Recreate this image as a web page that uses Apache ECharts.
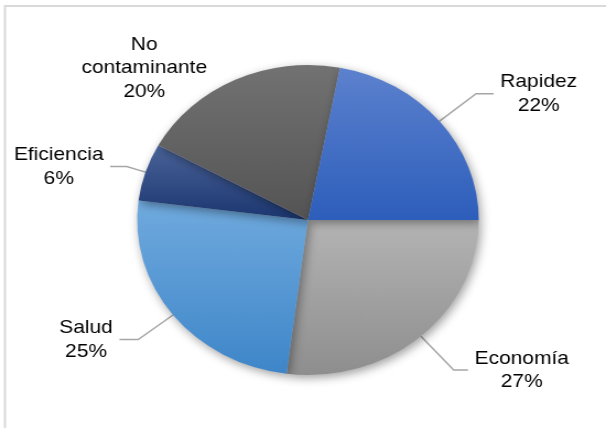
<!DOCTYPE html>
<html>
<head>
<meta charset="utf-8">
<script src="https://cdn.jsdelivr.net/npm/echarts@6/dist/echarts.min.js"></script>
<style>
  html, body { margin: 0; padding: 0; background: #fff; overflow: hidden; }
  #wrap { width: 606px; height: 428px; overflow: hidden; position: relative; }
  /* the chart is drawn slightly wider than tall */
  #chart { width: 550px; height: 428px; transform: scale(1.1018, 1); transform-origin: 0 0; }
</style>
</head>
<body>
<div id="wrap"><div id="chart"></div></div>
<script>
// Slices in clockwise order, starting at 3 o'clock
const categories = ['Economía', 'Salud', 'Eficiencia', 'No contaminante', 'Rapidez'];
const shares = [27, 25, 6, 20, 22];

// vertical gradient per slice: [top, bottom]
const sliceColors = [
  ['#b4b4b4', '#8e8e8e'],
  ['#70aade', '#3e86c9'],
  ['#4a6399', '#1b3670'],
  ['#727272', '#545454'],
  ['#5c81ce', '#2d5ebb']
];
// leader line lengths [length, length2] per slice
const leaderLens = [[45, 13], [40, 17], [18, 15], [13, 14], [43, 16]];

const chart = echarts.init(document.getElementById('chart'), null, { renderer: 'canvas' });

const data = categories.map((name, i) => ({
  name: name,
  value: shares[i],
  itemStyle: {
    color: new echarts.graphic.LinearGradient(0, 0, 0, 1, [
      { offset: 0, color: sliceColors[i][0] },
      { offset: 1, color: sliceColors[i][1] }
    ])
  },
  labelLine: {
    show: name !== 'No contaminante',
    length: leaderLens[i][0],
    length2: leaderLens[i][1]
  }
}));

chart.setOption({
  animation: false,
  graphic: [{
    type: 'rect',
    silent: true,
    shape: { x: 4.5, y: 6, width: 700, height: 600 },
    style: { fill: 'none', stroke: '#d9d9d9', lineWidth: 2 }
  }],
  series: [{
    type: 'pie',
    center: [279.5, 220],
    radius: 155,
    startAngle: 0,
    clockwise: true,
    avoidLabelOverlap: false,
    data: data,
    itemStyle: {
      borderWidth: 0,
      shadowBlur: 10,
      shadowColor: 'rgba(0,0,0,0.38)',
      shadowOffsetX: 2,
      shadowOffsetY: 3
    },
    label: {
      show: true,
      position: 'outside',
      distanceToLabelLine: 6,
      formatter: p => p.name.split(' ').concat(p.value + '%').map(s => '{t|' + s + '}').join('\n'),
      rich: {
        t: {
          align: 'center',
          fontFamily: '"Liberation Sans", Arial, sans-serif',
          fontSize: 19,
          lineHeight: 23.5,
          color: '#000'
        }
      }
    },
    labelLine: {
      smooth: false,
      lineStyle: { color: '#a6a6a6', width: 1.5 }
    },
    emphasis: { disabled: true }
  }]
});
</script>
</body>
</html>
